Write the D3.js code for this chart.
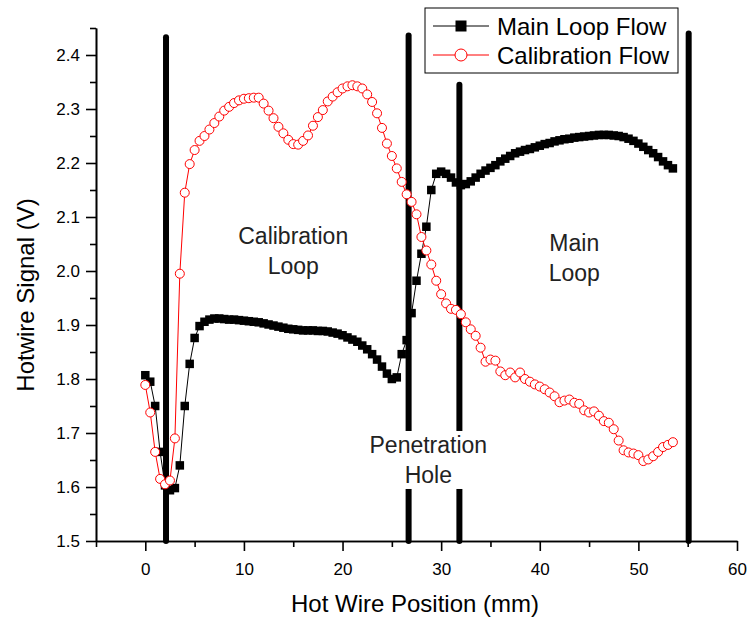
<!DOCTYPE html>
<html>
<head>
<meta charset="utf-8">
<script src="https://cdn.jsdelivr.net/npm/d3@7"></script>
<style>
  body { margin: 0; background: #fff; }
  svg { display: block; font-family: "Liberation Sans", Arial, sans-serif; }
</style>
</head>
<body>
<div id="chart"></div>
<script>
// hot wire positions (mm), shared by both series
const positions = [
  0, 0.5, 1, 1.5, 2, 2.5, 3, 3.5, 4, 4.5, 5, 5.5, 6, 6.5, 7, 7.5, 8, 8.5, 9, 9.5,
  10, 10.5, 11, 11.5, 12, 12.5, 13, 13.5, 14, 14.5, 15, 15.5, 16, 16.5, 17, 17.5, 18, 18.5, 19, 19.5,
  20, 20.5, 21, 21.5, 22, 22.5, 23, 23.5, 24, 24.5, 25, 25.5, 26, 26.5, 27, 27.5, 28, 28.5, 29, 29.5,
  30, 30.5, 31, 31.5, 32, 32.5, 33, 33.5, 34, 34.5, 35, 35.5, 36, 36.5, 37, 37.5, 38, 38.5, 39, 39.5,
  40, 40.5, 41, 41.5, 42, 42.5, 43, 43.5, 44, 44.5, 45, 45.5, 46, 46.5, 47, 47.5, 48, 48.5, 49, 49.5,
  50, 50.5, 51, 51.5, 52, 52.5, 53, 53.5
];

// Main Loop Flow (V)
const mainLoopFlow = [
  1.807, 1.795, 1.750, 1.665, 1.603, 1.594, 1.598, 1.640, 1.750, 1.828, 1.876, 1.898, 1.906, 1.910, 1.912, 1.912, 1.911, 1.910, 1.910, 1.909,
  1.908, 1.907, 1.906, 1.905, 1.903, 1.901, 1.899, 1.897, 1.895, 1.893, 1.892, 1.891, 1.890, 1.890, 1.890, 1.889, 1.889, 1.888, 1.886, 1.884,
  1.881, 1.877, 1.873, 1.869, 1.862, 1.855, 1.846, 1.836, 1.823, 1.810, 1.800, 1.803, 1.846, 1.872, 1.922, 1.982, 2.032, 2.082, 2.150, 2.180,
  2.184, 2.180, 2.173, 2.164, 2.159, 2.161, 2.166, 2.173, 2.180, 2.186, 2.191, 2.196, 2.203, 2.208, 2.213, 2.218, 2.221, 2.224, 2.226, 2.229,
  2.232, 2.235, 2.237, 2.240, 2.242, 2.244, 2.245, 2.247, 2.248, 2.249, 2.250, 2.251, 2.252, 2.252, 2.252, 2.251, 2.250, 2.248, 2.245, 2.241,
  2.236, 2.230, 2.224, 2.218, 2.211, 2.203, 2.196, 2.190
];

// Calibration Flow (V)
const calibrationFlow = [
  1.789, 1.738, 1.665, 1.615, 1.605, 1.612, 1.690, 1.995, 2.145, 2.198, 2.224, 2.241, 2.250, 2.262, 2.274, 2.286, 2.297, 2.304, 2.311, 2.316,
  2.319, 2.320, 2.321, 2.321, 2.310, 2.297, 2.283, 2.267, 2.255, 2.243, 2.235, 2.234, 2.241, 2.251, 2.269, 2.285, 2.298, 2.314, 2.323, 2.331,
  2.338, 2.342, 2.344, 2.342, 2.338, 2.327, 2.313, 2.292, 2.265, 2.236, 2.213, 2.190, 2.165, 2.142, 2.128, 2.105, 2.063, 2.038, 2.012, 1.982,
  1.957, 1.940, 1.930, 1.928, 1.920, 1.905, 1.892, 1.880, 1.858, 1.832, 1.836, 1.834, 1.814, 1.807, 1.812, 1.803, 1.812, 1.800, 1.795, 1.790,
  1.786, 1.781, 1.775, 1.768, 1.757, 1.760, 1.762, 1.756, 1.754, 1.742, 1.738, 1.740, 1.732, 1.722, 1.719, 1.707, 1.686, 1.668, 1.664, 1.662,
  1.659, 1.648, 1.651, 1.657, 1.665, 1.674, 1.678, 1.683
];

// thick vertical dividers: position (mm) and top (V)
const dividerPositions = [2.1, 26.7, 31.85, 55.1];
const dividerTops = [2.433, 2.436, 2.345, 2.44];

const xMajorTicks = [0, 10, 20, 30, 40, 50, 60];
const xMinorTicks = [-5, 5, 15, 25, 35, 45, 55];
const yMajorTicks = [1.5, 1.6, 1.7, 1.8, 1.9, 2.0, 2.1, 2.2, 2.3, 2.4];
const yMinorTicks = [1.55, 1.65, 1.75, 1.85, 1.95, 2.05, 2.15, 2.25, 2.35, 2.45];

const seriesNames = ['Main Loop Flow', 'Calibration Flow'];

const width = 747, height = 623;
const svg = d3.select('#chart').append('svg')
  .attr('width', width)
  .attr('height', height);

const x = d3.scaleLinear().domain([-5, 60]).range([96, 737]);
const y = d3.scaleLinear().domain([1.5, 2.45]).range([541, 28]);

// vertical dividers (drawn under the data)
svg.append('g').selectAll('line')
  .data(dividerPositions)
  .join('line')
    .attr('x1', d => x(d)).attr('x2', d => x(d))
    .attr('y1', y(1.5))
    .attr('y2', (d, i) => y(dividerTops[i]))
    .attr('stroke', '#000')
    .attr('stroke-width', 6)
    .attr('stroke-linecap', 'round');

// axes
const axisStyle = g => {
  g.select('.domain').attr('stroke-width', 1.6);
  g.selectAll('.tick line').attr('stroke-width', 1.6);
  g.selectAll('text').attr('font-size', 17).attr('fill', '#000')
    .attr('font-family', '"Liberation Sans", Arial, sans-serif');
};

svg.append('g')
  .attr('transform', `translate(0,${y(1.5)})`)
  .call(d3.axisBottom(x).tickValues(xMinorTicks).tickSize(6).tickFormat('').tickSizeOuter(0))
  .call(axisStyle);
svg.append('g')
  .attr('transform', `translate(0,${y(1.5)})`)
  .call(d3.axisBottom(x).tickValues(xMajorTicks).tickSize(10).tickPadding(12).tickSizeOuter(0))
  .call(axisStyle);

svg.append('g')
  .attr('transform', `translate(${x(-5)},0)`)
  .call(d3.axisLeft(y).tickValues(yMinorTicks).tickSize(6).tickFormat('').tickSizeOuter(0))
  .call(axisStyle);
svg.append('g')
  .attr('transform', `translate(${x(-5)},0)`)
  .call(d3.axisLeft(y).tickValues(yMajorTicks).tickSize(10).tickPadding(6).tickFormat(d3.format('.1f')).tickSizeOuter(0))
  .call(axisStyle);

// axis titles
svg.append('text')
  .attr('x', 415).attr('y', 612)
  .attr('text-anchor', 'middle')
  .attr('font-size', 24)
  .text('Hot Wire Position (mm)');

svg.append('text')
  .attr('transform', 'translate(34,295) rotate(-90)')
  .attr('text-anchor', 'middle')
  .attr('font-size', 24)
  .text('Hotwire Signal (V)');

// region labels, white box behind so the dividers stop at the text
const regionLabel = (lines, cx, top) => {
  const g = svg.append('g');
  const bg = g.append('rect').attr('fill', '#fff');
  const t = g.append('text')
    .attr('text-anchor', 'middle')
    .attr('font-size', 23)
    .attr('fill', '#222');
  lines.forEach((s, i) => {
    t.append('tspan').attr('x', x(cx)).attr('y', y(top) + i * 30).text(s);
  });
  const bb = t.node().getBBox();
  bg.attr('x', bb.x - 3).attr('y', bb.y - 1)
    .attr('width', bb.width + 6).attr('height', bb.height + 2);
};
regionLabel(['Calibration', 'Loop'], 15.0, 2.05);
regionLabel(['Main', 'Loop'], 43.5, 2.037);
regionLabel(['Penetration', 'Hole'], 28.7, 1.663);

// series
const mainData = positions.map((p, i) => [p, mainLoopFlow[i]]);
const calData = positions.map((p, i) => [p, calibrationFlow[i]]);
const line = d3.line().x(d => x(d[0])).y(d => y(d[1]));

svg.append('path')
  .datum(mainData)
  .attr('fill', 'none')
  .attr('stroke', '#000')
  .attr('stroke-width', 1)
  .attr('d', line);

const sq = 8.5;
svg.append('g').selectAll('rect')
  .data(mainData)
  .join('rect')
    .attr('x', d => x(d[0]) - sq / 2)
    .attr('y', d => y(d[1]) - sq / 2)
    .attr('width', sq).attr('height', sq)
    .attr('fill', '#000');

svg.append('path')
  .datum(calData)
  .attr('fill', 'none')
  .attr('stroke', '#f00')
  .attr('stroke-width', 1)
  .attr('d', line);

svg.append('g').selectAll('circle')
  .data(calData)
  .join('circle')
    .attr('cx', d => x(d[0]))
    .attr('cy', d => y(d[1]))
    .attr('r', 4.5)
    .attr('fill', '#fff')
    .attr('stroke', '#f00')
    .attr('stroke-width', 1);

// legend
const legend = svg.append('g').attr('transform', 'translate(425,8)');
legend.append('rect')
  .attr('width', 253).attr('height', 65)
  .attr('fill', '#fff').attr('stroke', '#000').attr('stroke-width', 1);

const rows = legend.selectAll('g.row')
  .data(seriesNames)
  .join('g')
    .attr('class', 'row')
    .attr('transform', (d, i) => `translate(0,${18 + i * 29})`);

rows.append('line')
  .attr('x1', 8).attr('x2', 64)
  .attr('stroke', (d, i) => i === 0 ? '#000' : '#f00')
  .attr('stroke-width', 1);

rows.filter((d, i) => i === 0).append('rect')
  .attr('x', 36 - 5.5).attr('y', -5.5).attr('width', 11).attr('height', 11)
  .attr('fill', '#000');
rows.filter((d, i) => i === 1).append('circle')
  .attr('cx', 36).attr('r', 6)
  .attr('fill', '#fff').attr('stroke', '#f00').attr('stroke-width', 1);

rows.append('text')
  .attr('x', 72).attr('y', 9)
  .attr('font-size', 24)
  .text(d => d);
</script>
</body>
</html>
